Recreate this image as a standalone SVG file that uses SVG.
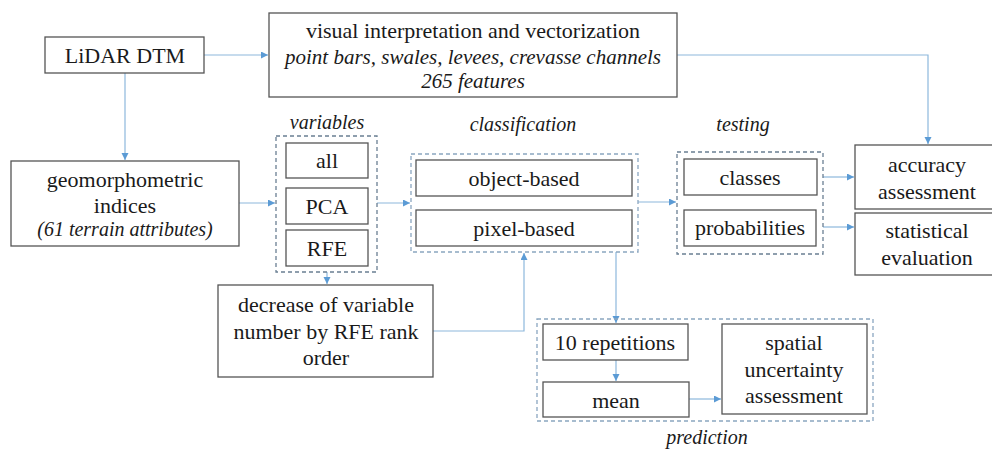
<svg xmlns="http://www.w3.org/2000/svg" width="992" height="450" viewBox="0 0 992 450">
<defs>
<marker id="ah" markerWidth="8" markerHeight="8" refX="7" refY="3.5" orient="auto" markerUnits="userSpaceOnUse">
<path d="M0,0 L7,3.5 L0,7 Z" fill="#5b9bd5"/>
</marker>
<style>
.box{fill:#fff;stroke:#555;stroke-width:1.3}
.grp{fill:none;stroke:#6a7f93;stroke-width:1.3;stroke-dasharray:4,3}
.grpb{fill:none;stroke:#8aa6c0;stroke-width:1.3;stroke-dasharray:4,3}
text{font-family:"Liberation Serif","Times New Roman",Times,"DejaVu Serif",serif;fill:#1a1a1a;text-anchor:middle}
.t{font-size:22px}
.i{font-size:21px;font-style:italic}
.lbl{font-size:20px;font-style:italic}
.c{fill:none;stroke:#8db8dc;stroke-width:1.2}
</style>
</defs>
<rect width="992" height="450" fill="#fff"/>

<g id="connectors">
<path class="c" d="M204,55 H268" marker-end="url(#ah)"/>
<path class="c" d="M677,55 H928 V144" marker-end="url(#ah)"/>
<path class="c" d="M125,73 V160" marker-end="url(#ah)"/>
<path class="c" d="M239,203 H275" marker-end="url(#ah)"/>
<path class="c" d="M377,203 H410" marker-end="url(#ah)"/>
<path class="c" d="M638,202 H676" marker-end="url(#ah)"/>
<path class="c" d="M823,177 H854" marker-end="url(#ah)"/>
<path class="c" d="M823,227 H854" marker-end="url(#ah)"/>
<path class="c" d="M327,272 V284" marker-end="url(#ah)"/>
<path class="c" d="M433,331 H524 V253" marker-end="url(#ah)"/>
<path class="c" d="M616,252 V323" marker-end="url(#ah)"/>
<path class="c" d="M616,360 V381" marker-end="url(#ah)"/>
<path class="c" d="M689,399 H721" marker-end="url(#ah)"/>
</g>

<g id="lidar">
<rect class="box" x="45" y="37" width="159" height="36"/>
<text class="t" x="125" y="63">LiDAR DTM</text>
</g>

<g id="visual">
<rect class="box" x="269" y="13" width="408" height="84"/>
<text class="t" x="473" y="38">visual interpretation and vectorization</text>
<text class="i" x="473" y="64">point bars, swales, levees, crevasse channels</text>
<text class="i" x="473" y="88">265 features</text>
</g>

<g id="geomorph">
<rect class="box" x="11" y="161" width="228" height="85"/>
<text class="t" x="125" y="187">geomorphometric</text>
<text class="t" x="125" y="213">indices</text>
<text class="i" x="125" y="236" style="font-size:20px">(61 terrain attributes)</text>
</g>

<g id="variables">
<text class="lbl" x="327" y="129">variables</text>
<rect class="grp" x="276" y="136" width="101" height="136"/>
<rect class="box" x="286" y="143" width="82" height="35"/>
<text class="t" x="327" y="168">all</text>
<rect class="box" x="286" y="188" width="82" height="36"/>
<text class="t" x="327" y="214">PCA</text>
<rect class="box" x="286" y="230" width="82" height="36"/>
<text class="t" x="327" y="256">RFE</text>
</g>

<g id="decrease">
<rect class="box" x="218" y="285" width="215" height="92"/>
<text class="t" x="326" y="312">decrease of variable</text>
<text class="t" x="326" y="339">number by RFE rank</text>
<text class="t" x="326" y="365">order</text>
</g>

<g id="classification">
<text class="lbl" x="523" y="131">classification</text>
<rect class="grpb" x="411" y="154" width="227" height="98"/>
<rect class="box" x="416" y="160" width="216" height="36"/>
<text class="t" x="524" y="186">object-based</text>
<rect class="box" x="416" y="210" width="216" height="36"/>
<text class="t" x="524" y="236">pixel-based</text>
</g>

<g id="testing">
<text class="lbl" x="743" y="131">testing</text>
<rect class="grp" x="677" y="152" width="146" height="102"/>
<rect class="box" x="684" y="159" width="133" height="36"/>
<text class="t" x="750" y="185">classes</text>
<rect class="box" x="684" y="210" width="132" height="36"/>
<text class="t" x="750" y="235">probabilities</text>
</g>

<g id="accuracy">
<rect class="box" x="855" y="145" width="140" height="64"/>
<text class="t" x="927" y="172">accuracy</text>
<text class="t" x="927" y="199">assessment</text>
</g>

<g id="statistical">
<rect class="box" x="855" y="213" width="140" height="62"/>
<text class="t" x="927" y="238">statistical</text>
<text class="t" x="927" y="265">evaluation</text>
</g>

<g id="prediction">
<rect class="grpb" x="537" y="319" width="336" height="102"/>
<text class="lbl" x="707" y="444">prediction</text>
<rect class="box" x="543" y="324" width="145" height="36"/>
<text class="t" x="615" y="350">10 repetitions</text>
<rect class="box" x="543" y="382" width="146" height="35"/>
<text class="t" x="616" y="408">mean</text>
<rect class="box" x="722" y="324" width="145" height="90"/>
<text class="t" x="794" y="350">spatial</text>
<text class="t" x="794" y="377">uncertainty</text>
<text class="t" x="794" y="403">assessment</text>
</g>
</svg>
